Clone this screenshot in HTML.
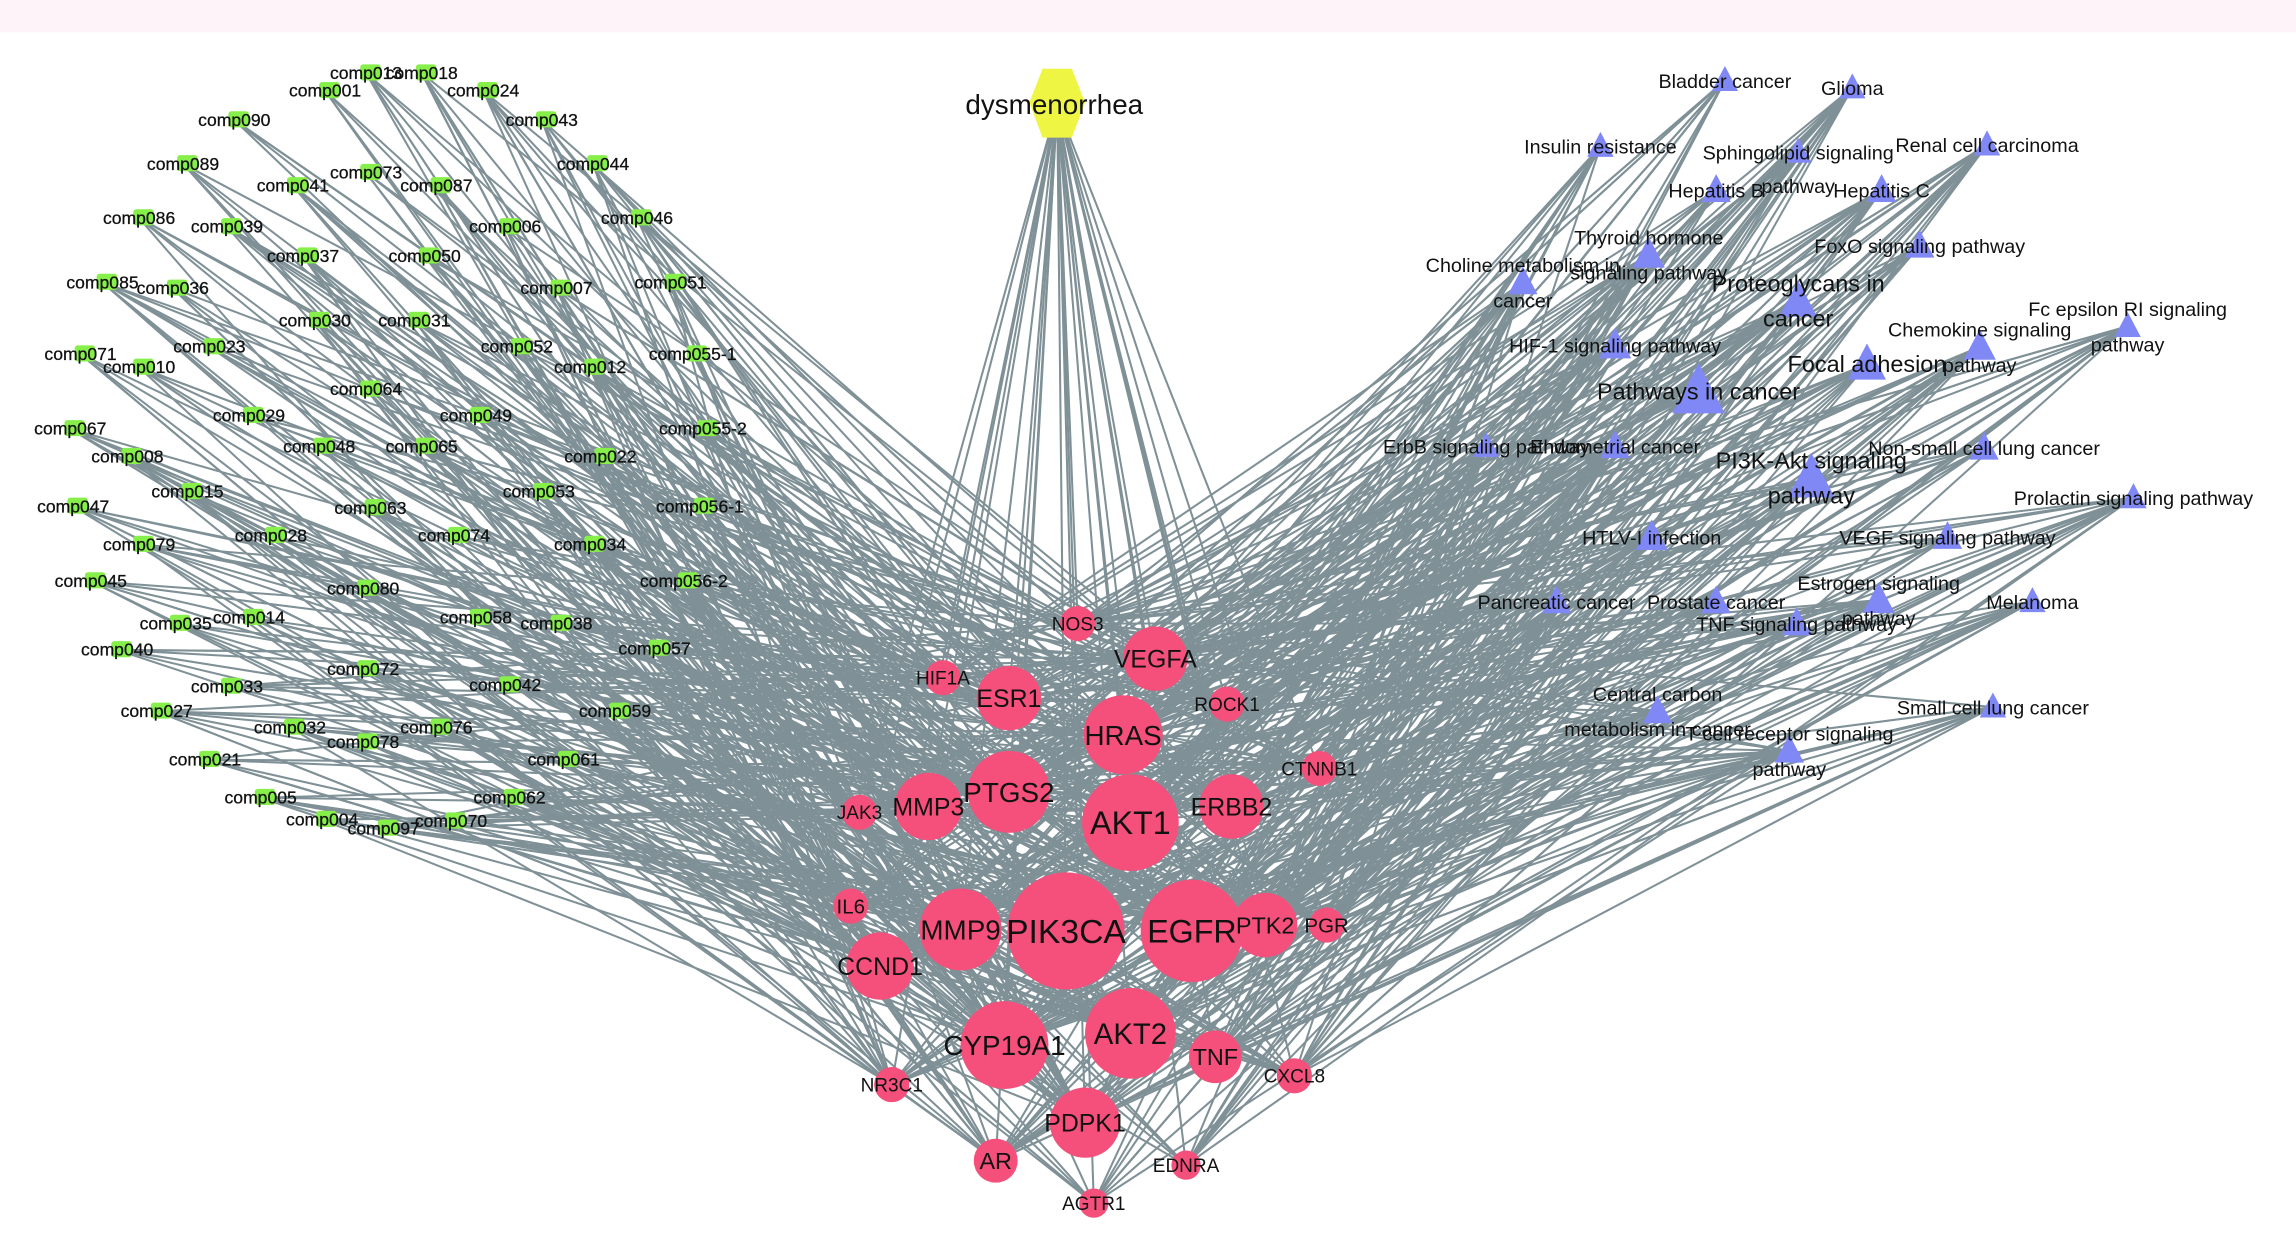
<!DOCTYPE html>
<html><head><meta charset="utf-8">
<style>
html,body{margin:0;padding:0;background:#fff;}
svg{display:block;}
text{font-family:"Liberation Sans",sans-serif;fill:#111;}
</style></head>
<body>
<svg id="s" xmlns="http://www.w3.org/2000/svg" width="2296" height="1250" viewBox="0 0 1568 854" preserveAspectRatio="none">
<rect x="0" y="0" width="1568" height="854" fill="#fff"/>
<rect x="0" y="0" width="1568" height="22" fill="#fdf3f8"/>
<g id="edges" stroke="#7f9197" stroke-width="1.4" fill="none"></g>
<g id="nodes"></g>
<g id="labels"></g>
</svg>
<script>
var NS="http://www.w3.org/2000/svg";
function el(p,t,a,txt){var e=document.createElementNS(NS,t);for(var k in a)e.setAttribute(k,a[k]);if(txt!==undefined)e.textContent=txt;p.appendChild(e);return e;}
var E=document.getElementById('edges'),N=document.getElementById('nodes'),L=document.getElementById('labels');
var comps=[["comp001",222,62],["comp013",250,50],["comp018",288,50],["comp024",330,62],["comp090",160,82],["comp043",370,82],["comp089",125,112],["comp073",250,118],["comp044",405,112],["comp041",200,127],["comp087",298,127],["comp086",95,149],["comp039",155,155],["comp006",345,155],["comp046",435,149],["comp037",207,175],["comp050",290,175],["comp085",70,193],["comp036",118,197],["comp007",380,197],["comp051",458,193],["comp030",215,219],["comp031",283,219],["comp071",55,242],["comp023",143,237],["comp010",95,251],["comp052",353,237],["comp012",403,251],["comp055-1",473,242],["comp064",250,266],["comp029",170,284],["comp049",325,284],["comp067",48,293],["comp055-2",480,293],["comp048",218,305],["comp065",288,305],["comp008",87,312],["comp022",410,312],["comp015",128,336],["comp053",368,336],["comp047",50,346],["comp063",253,347],["comp056-1",478,346],["comp028",185,366],["comp074",310,366],["comp079",95,372],["comp034",403,372],["comp045",62,397],["comp080",248,402],["comp056-2",467,397],["comp058",325,422],["comp038",380,426],["comp014",170,422],["comp035",120,426],["comp040",80,444],["comp057",447,443],["comp072",248,457],["comp042",345,468],["comp033",155,469],["comp059",420,486],["comp027",107,486],["comp032",198,497],["comp076",298,497],["comp078",248,507],["comp021",140,519],["comp061",385,519],["comp005",178,545],["comp062",348,545],["comp004",220,560],["comp097",262,566],["comp070",308,561]];
var T=[["NOS3",736,426,12,13],["VEGFA",789,450,22,17],["HIF1A",644,463,12,13],["ESR1",689,477,22,17],["ROCK1",838,481,12,13],["HRAS",767,502,27,19],["CTNNB1",901,525,12,13],["PTGS2",689,541,28,19],["AKT1",772,562,33,22],["ERBB2",841,551,22,17],["JAK3",587,555,12,13],["MMP3",634,551,23,17],["IL6",581,619,12,14],["MMP9",656,635,28,19],["PIK3CA",728,636,40,23],["EGFR",814,636,35,22],["PTK2",864,632,22,16],["PGR",906,632,12,14],["CCND1",601,660,23,17],["CYP19A1",686,714,30,19],["AKT2",772,706,31,20],["TNF",830,722,18,16],["CXCL8",884,735,12,13],["NR3C1",609,741,12,13],["PDPK1",741,767,24,17],["AR",680,793,15,16],["EDNRA",810,796,10,13],["AGTR1",747,822,10,13]];
var P=[[["Bladder cancer"],1178,55,9],[["Glioma"],1265,60,9],[["Insulin resistance"],1093,100,9],[["Sphingolipid signaling"],1228,104,9],[["Renal cell carcinoma"],1357,99,9],[["Hepatitis B"],1172,130,10],[["pathway"],1228,127,0],[["Hepatitis C"],1285,130,10],[["Thyroid hormone","signaling pathway"],1126,174,11],[["FoxO signaling pathway"],1311,168,10],[["Choline metabolism in","cancer"],1040,193,10],[["Proteoglycans in","cancer"],1228,206,13],[["Chemokine signaling","pathway"],1352,237,11],[["Fc epsilon RI signaling","pathway"],1453,223,9],[["HIF-1 signaling pathway"],1103,236,11],[["Focal adhesion"],1275,249,13],[["Pathways in cancer"],1160,268,18],[["ErbB signaling pathway"],1015,305,9],[["Endometrial cancer"],1103,305,10],[["Non-small cell lung cancer"],1355,306,10],[["PI3K-Akt signaling","pathway"],1237,327,16],[["Prolactin signaling pathway"],1457,340,9],[["HTLV-I infection"],1128,367,11],[["VEGF signaling pathway"],1330,367,10],[["Estrogen signaling","pathway"],1283,410,11],[["Pancreatic cancer"],1063,411,10],[["Prostate cancer"],1172,411,10],[["Melanoma"],1388,411,9],[["TNF signaling pathway"],1227,426,10],[["Central carbon","metabolism in cancer"],1132,486,10],[["T cell receptor signaling","pathway"],1222,513,10],[["Small cell lung cancer"],1361,483,9]];
var seed=7;function rnd(){seed=(seed*16807)%2147483647;return seed/2147483647;}
function pick(){var w=0;for(var i=0;i<T.length;i++)w+=T[i][3];var r=rnd()*w;for(var i=0;i<T.length;i++){r-=T[i][3];if(r<=0)return T[i];}return T[0];}
function line(a,b,c,d){el(E,'line',{x1:a,y1:b,x2:c,y2:d});}
T.forEach(function(t){line(722,72,t[1],t[2]);});
comps.forEach(function(c){var k=4+Math.floor(rnd()*5);for(var i=0;i<k;i++){var t=pick();line(c[1],c[2],t[1],t[2]);}});
P.forEach(function(p){if(!p[3])return;var k=12+Math.floor(rnd()*12);for(var i=0;i<k;i++){var t=pick();line(p[1],p[2],t[1],t[2]);}});
el(N,'polygon',{points:"712,47 732,47 741,70 732,94 712,94 703,70",fill:"#eef542"});
el(L,'text',{x:720,y:78,'font-size':19,'text-anchor':'middle'},"dysmenorrhea");
comps.forEach(function(c){el(N,'rect',{x:c[1]-4,y:c[2]-6,width:14,height:11,rx:2,fill:"#86ef4a"});el(L,'text',{x:c[1],y:c[2]+4,'font-size':12,'text-anchor':'middle','stroke':'#111','stroke-width':0.2},c[0]);});
T.forEach(function(t){el(N,'circle',{cx:t[1],cy:t[2],r:t[3],fill:"#f5507b"});el(L,'text',{x:t[1],y:t[2]+t[4]*0.36,'font-size':t[4],'text-anchor':'middle'},t[0]);});
P.forEach(function(p){var s=p[3];if(s){el(N,'polygon',{points:(p[1])+","+(p[2]-s*1.1)+" "+(p[1]+s)+","+(p[2]+s*0.8)+" "+(p[1]-s)+","+(p[2]+s*0.8),fill:"#8088f5"});}
 var fs=s>=13?16:13.5;var lines=p[0];var y0=p[2]+5-(lines.length-1)*12;
 lines.forEach(function(t,i){el(L,'text',{x:p[1],y:y0+i*24,'font-size':fs,'text-anchor':'middle'},t);});});
</script>
</body></html>
